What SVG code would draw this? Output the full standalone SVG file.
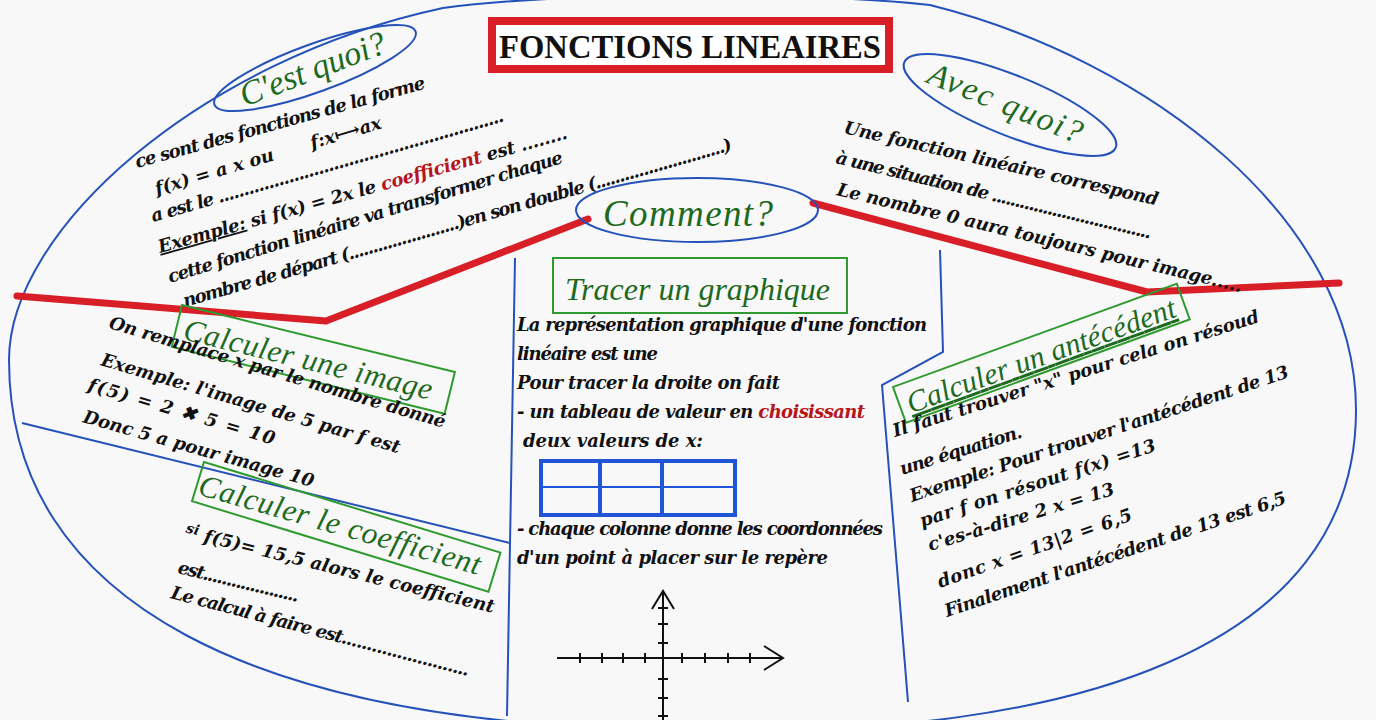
<svg xmlns="http://www.w3.org/2000/svg" width="1376" height="720" viewBox="0 0 1376 720">
<defs>
<style>
.bg{fill:#f8f8f8}
.blue{fill:none;stroke:#2452b8;stroke-width:2}
.red{fill:none;stroke:#d81e27;stroke-width:7;stroke-linecap:round;stroke-linejoin:round}
.gbox{fill:none;stroke:#2f9a2f;stroke-width:2}
.head{font-family:"Liberation Serif","DejaVu Serif",serif;font-style:italic;fill:#1d6a1f}
.body{font-family:"DejaVu Serif","Liberation Serif",serif;font-style:italic;font-weight:bold;font-size:18px;fill:#111}
.rd{fill:#b5161c}
.ax{fill:none;stroke:#111;stroke-width:2}
</style>
</defs>
<rect class="bg" x="0" y="0" width="1376" height="720"/>

<g id="outline">
<path class="blue" d="M 9,360 C 9,230 200,60 443,8 C 560,-8 810,-8 930,5 C 1150,60 1356,220 1356,410 C 1356,650 1070,738 700,730 C 250,730 9,600 9,360 Z"/>
<polyline class="blue" points="515,258 507,716"/>
<polyline class="blue" points="22,423 510,543"/>
<polyline class="blue" points="940,250 943,352 882,385 908,702"/>
</g>

<g id="connectors">
<polyline class="red" points="17,296 326,321 588,219"/>
<polyline class="red" points="813,203 1147,292 1339,283"/>
</g>

<g id="title">
<rect x="492" y="21" width="397" height="48" fill="#fff" stroke="#d81e27" stroke-width="8"/>
<text x="690" y="58" text-anchor="middle" font-family="Liberation Serif, serif" font-weight="bold" font-size="33" fill="#111" textLength="382" lengthAdjust="spacingAndGlyphs">FONCTIONS LINEAIRES</text>
</g>

<g id="cest-quoi">
<ellipse class="blue" cx="315" cy="68" rx="107" ry="24" transform="rotate(-20 315 68)"/>
<text class="head" font-size="34" text-anchor="middle" transform="translate(313,70) rotate(-21)" y="10">C'est quoi?</text>
<g class="body">
<text transform="translate(137,168) rotate(-15.4)" textLength="300">ce sont des fonctions de la forme</text>
<text transform="translate(157,195) rotate(-16.5)">f(x) = a x ou<tspan x="162">f:x⟼ax</tspan></text>
<text transform="translate(153,222) rotate(-16)" textLength="366">a est le .........................................................</text>
<text transform="translate(160,253) rotate(-15.7)" textLength="424"><tspan text-decoration="underline">Exemple:</tspan> si f(x) = 2x le <tspan class="rd">coefficient</tspan> est ........</text>
<text transform="translate(170,283) rotate(-17)" textLength="412">cette fonction linéaire va transformer chaque</text>
<text transform="translate(185,307) rotate(-16)" textLength="570">nombre de départ (.......................)en son double (...........................)</text>
</g>
</g>

<g id="avec-quoi">
<ellipse class="blue" cx="1010" cy="105" rx="114" ry="30" transform="rotate(22 1010 105)"/>
<text class="head" font-size="33" text-anchor="middle" letter-spacing="2" transform="translate(1006,104) rotate(22)" y="10">Avec  quoi?</text>
<g class="body">
<text transform="translate(843,133) rotate(13)" textLength="322">Une fonction linéaire correspond</text>
<text transform="translate(835,163) rotate(13.5)" textLength="324">à une situation de ..................................</text>
<text transform="translate(836,195) rotate(13.5)" textLength="416">Le nombre 0 aura toujours pour image.....</text>
</g>
</g>

<g id="comment">
<ellipse class="blue" cx="697" cy="210" rx="121" ry="32"/>
<text class="head" font-size="37" x="688" y="226" text-anchor="middle" fill="#15561a" textLength="170">Comment?</text>
</g>

<g id="calc-image">
<rect class="gbox" x="0" y="0" width="281" height="43" transform="translate(182,305) rotate(13.8)"/>
<text class="head" font-size="31" transform="translate(182,305) rotate(13.8)" x="8" y="33" textLength="255">Calculer une image</text>
<g class="body">
<text transform="translate(108,328) rotate(16.6)" textLength="350">On remplace x par le nombre donné</text>
<text transform="translate(100,365) rotate(16.5)" textLength="311">Exemple: l'image de 5 par f est</text>
<text transform="translate(87,390) rotate(16.4)" textLength="194">f(5) = 2 ✖ 5 = 10</text>
<text transform="translate(82,422) rotate(15.8)" textLength="239">Donc 5 a pour image 10</text>
</g>
</g>

<g id="calc-coef">
<rect class="gbox" x="0" y="0" width="310" height="41" transform="translate(204,462) rotate(17)"/>
<text class="head" font-size="31" transform="translate(204,462) rotate(16)" x="2" y="33" textLength="292">Calculer le coefficient</text>
<g class="body">
<text transform="translate(184,537) rotate(13.8)" textLength="318"><tspan font-size="14" dy="-5">si</tspan><tspan dy="5"> f(5)= 15,5 alors le coefficient</tspan></text>
<text transform="translate(177,573) rotate(13.5)" textLength="124">est....................</text>
<text transform="translate(170,598) rotate(14.7)" textLength="308">Le calcul à faire est.........................</text>
</g>
</g>

<g id="tracer">
<rect class="gbox" x="553" y="258" width="294" height="55"/>
<text class="head" font-size="32" x="565" y="300" fill="#111" textLength="265">Tracer un graphique</text>
<g class="body">
<text x="517" y="331" textLength="410">La représentation graphique d'une fonction</text>
<text x="517" y="360" textLength="141">linéaire est une</text>
<text x="517" y="389" textLength="263">Pour tracer la droite on fait</text>
<text x="517" y="418" textLength="348">- un tableau de valeur en <tspan class="rd">choisissant</tspan></text>
<text x="523" y="447" textLength="180">deux valeurs de x:</text>
<text x="517" y="535" textLength="366">- chaque colonne donne les coordonnées</text>
<text x="517" y="564" textLength="311">d'un point à placer sur le repère</text>
</g>
<g fill="none" stroke="#1f55d6">
<rect x="541" y="461" width="194" height="54" stroke-width="4"/>
<line x1="600" y1="461" x2="600" y2="515" stroke-width="4"/>
<line x1="662" y1="461" x2="662" y2="515" stroke-width="4"/>
<line x1="541" y1="487" x2="735" y2="487" stroke-width="2"/>
</g>
<g class="ax">
<line x1="557" y1="658" x2="783" y2="658"/>
<polyline points="764,646 783,658 764,670"/>
<line x1="663" y1="720" x2="663" y2="591"/>
<polyline points="652,609 663,591 674,609"/>
<path d="M580,653v10M602,653v10M623,653v10M645,653v10M682,653v10M705,653v10M728,653v10M750,653v10"/>
<path d="M658,608h10M658,624h10M658,643h10M658,679h10M658,698h10M658,716h10"/>
</g>
</g>

<g id="calc-antecedent">
<rect class="gbox" x="0" y="0" width="302" height="38" transform="translate(893,387) rotate(-20)"/>
<text class="head" font-size="30" text-decoration="underline" transform="translate(893,387) rotate(-20)" x="8" y="31" textLength="284">Calculer un antécédent</text>
<g class="body">
<text transform="translate(895,437) rotate(-17.5)" textLength="383">Il faut trouver "x" pour cela on résoud</text>
<text transform="translate(902,475) rotate(-17.4)" textLength="127">une équation.</text>
<text transform="translate(912,502) rotate(-18.3)" textLength="398">Exemple: Pour trouver l'antécédent de 13</text>
<text transform="translate(922,527) rotate(-18)" textLength="247">par f on résout f(x) =13</text>
<text transform="translate(930,551) rotate(-17)" textLength="194">c'es-à-dire 2 x = 13</text>
<text transform="translate(940,588) rotate(-19.4)" textLength="205">donc x = 13|2 = 6,5</text>
<text transform="translate(947,617) rotate(-18.5)" textLength="359">Finalement l'antécédent de 13 est 6,5</text>
</g>
</g>
</svg>
